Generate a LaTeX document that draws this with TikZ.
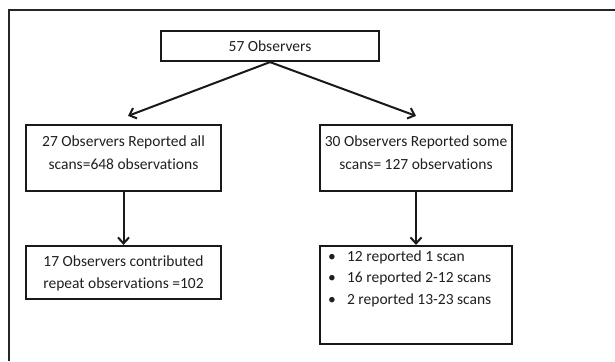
\documentclass[tikz,border=0pt]{standalone}
\usepackage{fontspec}
\setmainfont{Carlito}[Ligatures={NoCommon}]
\usetikzlibrary{arrows.meta}
\begin{document}
\begin{tikzpicture}[x=1pt,y=-1pt,
  box/.style={draw=black!90, line width=2.2pt, rectangle, inner sep=0pt},
  txt/.style={inner sep=0pt, align=center, font=\fontsize{15.5}{23}\selectfont, text=black!88},
  arr/.style={draw=black!90, line width=2pt, -{Straight Barb[length=6pt,width=11pt,line width=2pt]}},
  frame/.style={draw=black!85, line width=2.4pt}]
\useasboundingbox (0,0) rectangle (615,361);
\draw[frame] (9,361) -- (9,10) -- (615,10);
\node[box, minimum width=218pt, minimum height=30pt] (top) at (270,46) {};
\node[txt] (topt) at (top.center) {57 Observers};
\node[box, minimum width=195pt, minimum height=66pt] (ml) at (123.5,158) {};
\node[txt] (mlt) at ([yshift=5pt]ml.center) {27 Observers Reported all\\scans=648 observations};
\node[box, minimum width=192pt, minimum height=66pt] (mr) at (416,158) {};
\node[txt] (mrt) at ([yshift=5pt]mr.center) {30 Observers Reported some\\scans= 127 observations};
\node[box, minimum width=195pt, minimum height=53pt] (bl) at (123.5,272.5) {};
\node[txt, font=\fontsize{15.5}{22}\selectfont] (blt) at ([yshift=-1pt]bl.center) {17 Observers contributed\\repeat observations =102};
\node[box, minimum width=192pt, minimum height=98pt] (br) at (416,295) {};
\node[anchor=north west, inner sep=0pt, font=\fontsize{15.5}{21.5}\selectfont, text=black!88] (brt) at ([xshift=9pt,yshift=-1pt]br.north west)
  {\begin{tabular}{@{}p{19pt}@{}l@{}}
   \textbullet & 12 reported 1 scan\\
   \textbullet & 16 reported 2-12 scans\\
   \textbullet & 2 reported 13-23 scans
   \end{tabular}};
\draw[arr] (top.south) -- ([xshift=4.5pt,yshift=8pt]ml.north);
\draw[arr] (top.south) -- ([yshift=8pt]mr.north);
\draw[arr] (ml.south) -- (bl.north);
\draw[arr] (mr.south) -- (br.north);
\end{tikzpicture}
\end{document}
